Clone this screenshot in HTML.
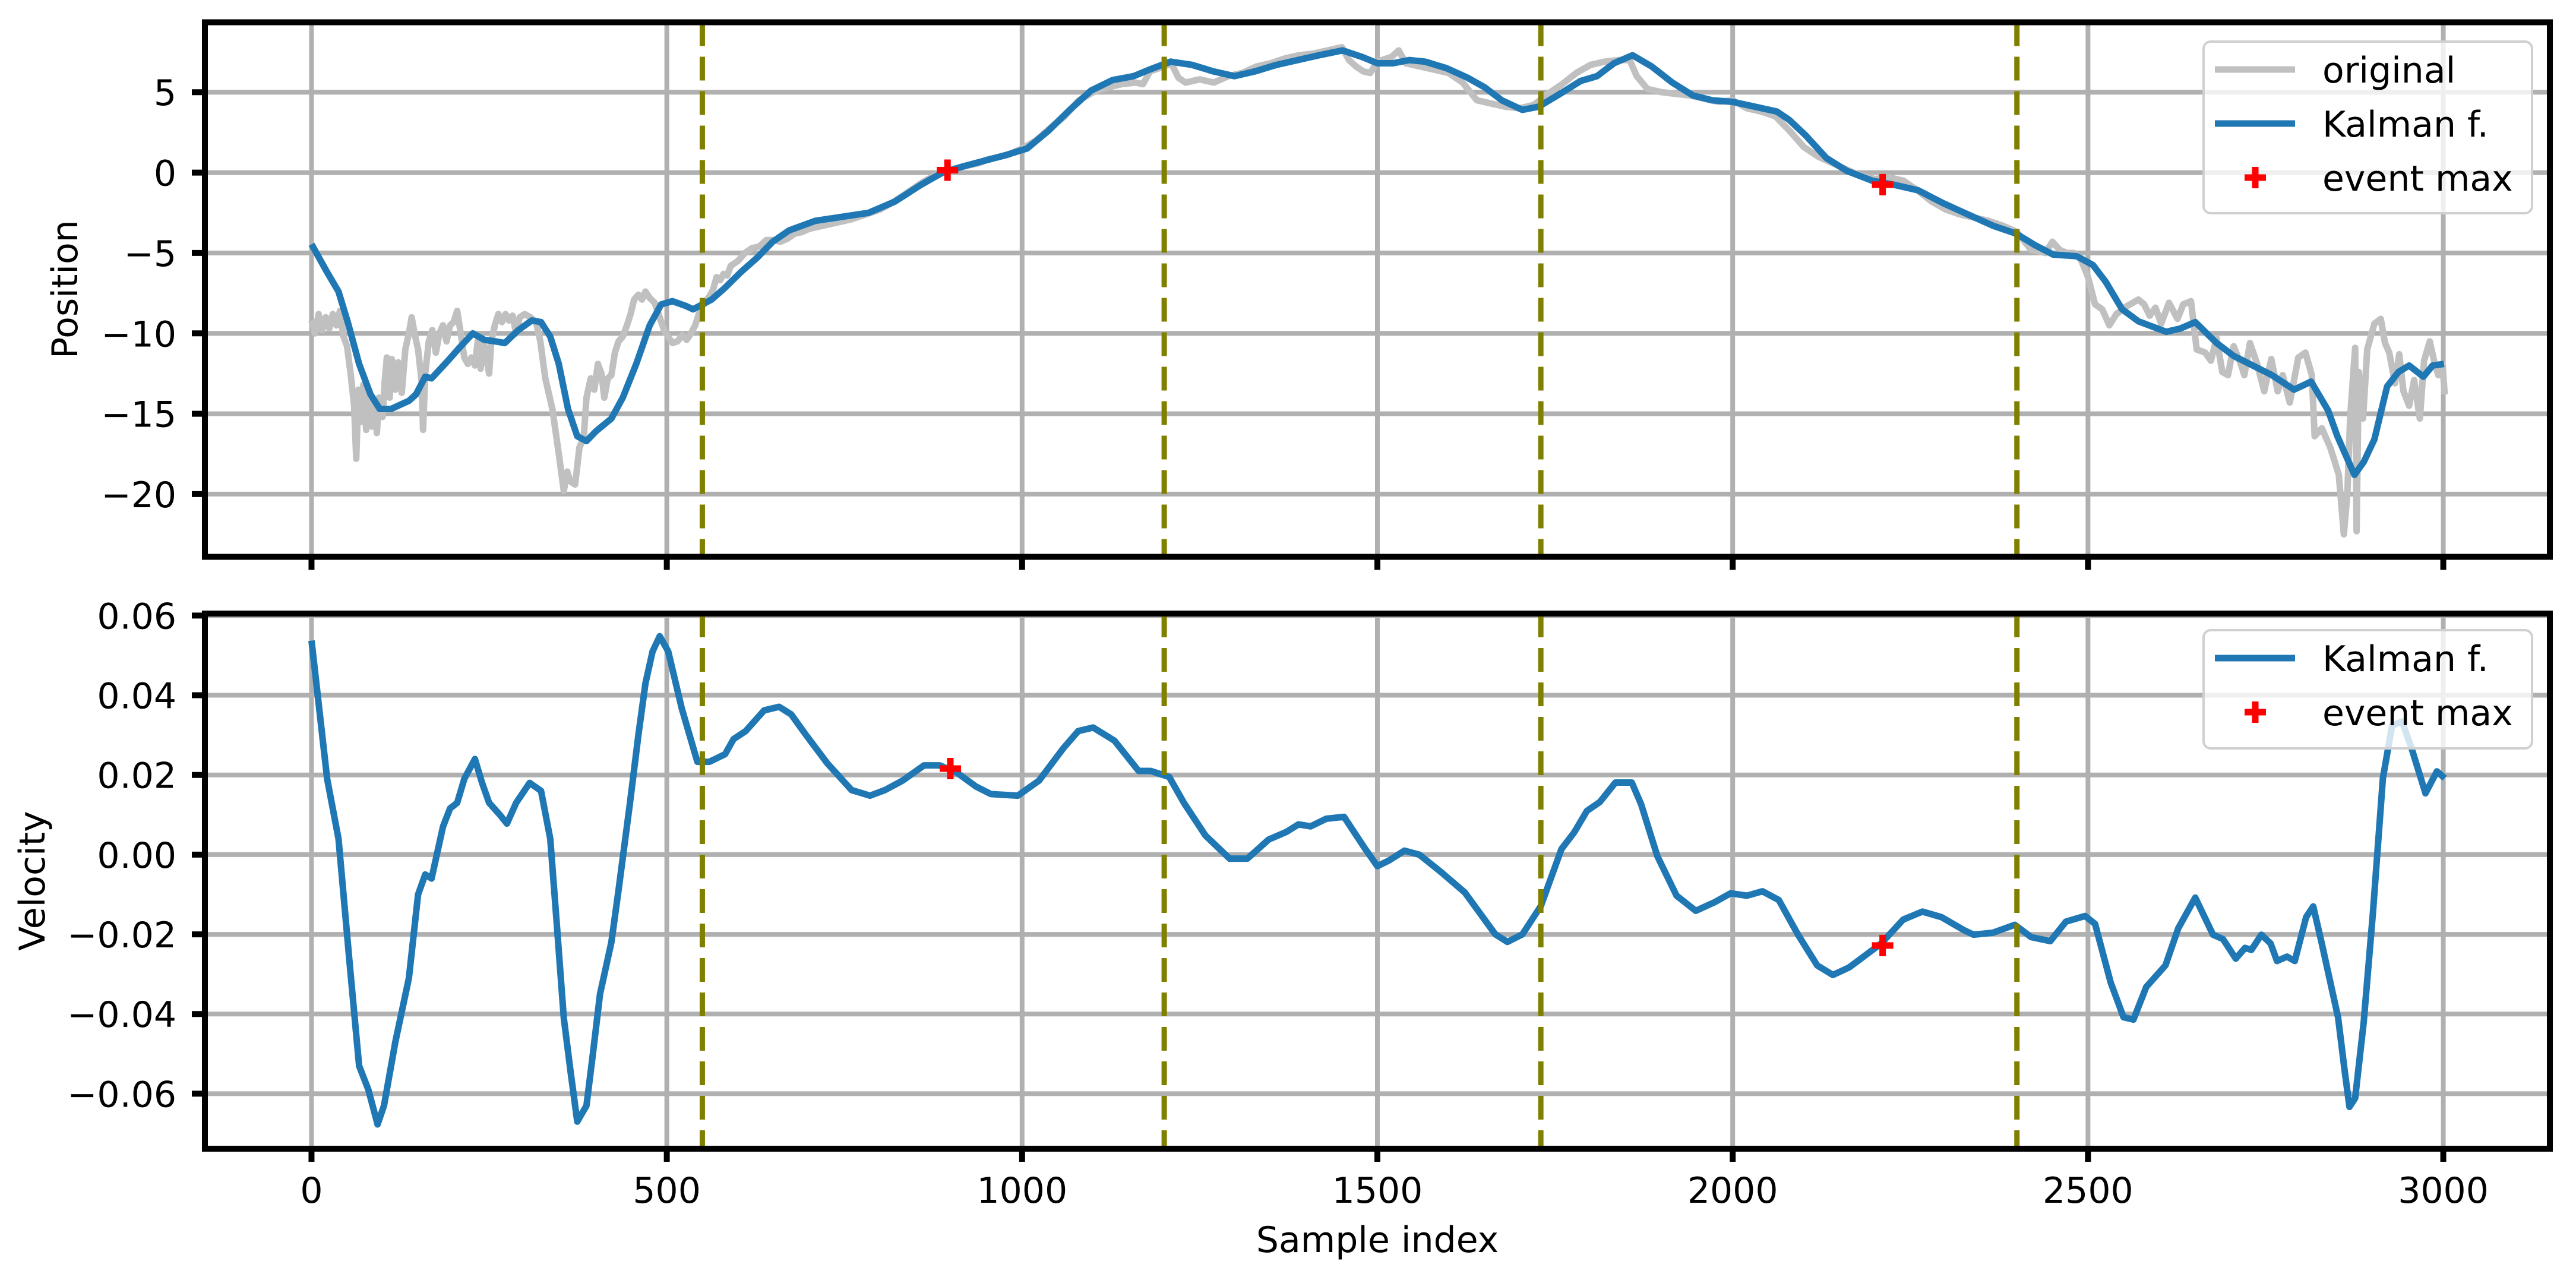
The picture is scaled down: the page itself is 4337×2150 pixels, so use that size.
<!DOCTYPE html>
<html><head><meta charset="utf-8">
<style>
html,body{margin:0;padding:0;background:#fff;}
svg{display:block;}
text{font-family:"DejaVu Sans","Liberation Sans",sans-serif;fill:#000;}
</style></head>
<body>
<svg id="chart" xmlns="http://www.w3.org/2000/svg" width="4337" height="2150" viewBox="0 0 4337 2150">
<rect x="0" y="0" width="4337" height="2150" fill="#fff"/>
<g id="topPanel"></g>
<g id="botPanel"></g>
<text x="2319" y="2108" font-size="60" text-anchor="middle">Sample index</text>
<text transform="translate(130,487) rotate(-90)" font-size="60" text-anchor="middle">Position</text>
<text transform="translate(75,1483) rotate(-90)" font-size="60" text-anchor="middle">Velocity</text>
</svg>
<script>
const xTicks=[0,500,1000,1500,2000,2500,3000];
const posTicks=[-20,-15,-10,-5,0,5];
const velTicks=[-0.06,-0.04,-0.02,0.00,0.02,0.04,0.06];
const eventLines=[550,1200,1730,2400];
const eventX=[895,2211];
const eventPos=[0.15,-0.75];
const eventVelX=[899,2211];
const eventVel=[0.0216,-0.0228];

const posX=[0,22,38,51,67,83,96,112,137,147,160,169,192,208,227,243,259,272,291,310,323,336,348,361,374,387,400,422,438,457,476,492,508,527,537,563,581,604,627,649,672,709,754,784,821,858,888,918,948,978,1007,1037,1067,1097,1127,1157,1179,1209,1239,1269,1299,1328,1358,1388,1418,1451,1478,1500,1522,1545,1567,1597,1627,1651,1675,1704,1727,1757,1786,1809,1833,1859,1886,1915,1944,1971,2000,2026,2062,2079,2103,2132,2161,2196,2226,2261,2296,2331,2366,2399,2425,2451,2484,2507,2525,2548,2571,2610,2630,2651,2681,2705,2732,2759,2790,2814,2838,2851,2862,2875,2888,2903,2921,2937,2952,2972,2985,3001];
const posKalman=[-4.46,-6.2,-7.4,-9.3,-11.9,-13.8,-14.7,-14.7,-14.2,-13.8,-12.7,-12.8,-11.7,-10.9,-10,-10.4,-10.5,-10.6,-9.8,-9.2,-9.3,-10.2,-11.9,-14.7,-16.4,-16.7,-16.1,-15.3,-14,-11.9,-9.5,-8.2,-8,-8.3,-8.5,-7.9,-7.2,-6.2,-5.3,-4.3,-3.6,-3.0,-2.7,-2.5,-1.8,-0.75,0.0,0.4,0.75,1.1,1.5,2.6,3.9,5.1,5.75,6.0,6.4,6.9,6.7,6.3,6.0,6.3,6.7,7.0,7.3,7.6,7.2,6.8,6.8,7.0,6.9,6.5,5.9,5.3,4.5,3.9,4.1,4.9,5.7,6.0,6.8,7.3,6.6,5.6,4.8,4.5,4.4,4.15,3.8,3.3,2.3,0.9,0.1,-0.5,-0.75,-1.1,-1.9,-2.6,-3.3,-3.8,-4.5,-5.1,-5.2,-5.75,-6.8,-8.5,-9.25,-9.9,-9.7,-9.3,-10.6,-11.4,-12.0,-12.6,-13.5,-13.0,-14.8,-16.4,-17.5,-18.8,-18.0,-16.6,-13.3,-12.4,-12,-12.7,-12,-11.9];

const origX=[0,5,10,15,20,25,30,35,40,45,50,55,60,63,66,70,73,77,80,85,88,92,95,100,103,106,110,113,118,122,127,132,137,141,145,150,155,157,160,165,170,175,180,185,190,195,200,205,210,215,220,225,230,234,238,242,246,250,253,258,263,268,273,278,283,288,293,300,308,316,322,329,339,348,355,360,364,371,377,383,387,393,398,403,408,412,417,422,427,432,438,444,449,454,460,465,470,476,483,490,496,502,508,515,522,528,534,540,545,550,555,560,565,570,575,580,585,590,600,610,620,630,640,650,660,670,680,690,700,710,720,740,760,780,800,820,840,860,880,900,920,940,950,980,1000,1020,1040,1060,1080,1100,1120,1140,1160,1170,1180,1200,1210,1220,1230,1250,1270,1290,1310,1330,1350,1370,1390,1410,1430,1450,1460,1470,1480,1490,1500,1520,1530,1540,1560,1580,1600,1620,1640,1660,1680,1700,1720,1740,1760,1780,1800,1820,1840,1855,1865,1880,1900,1920,1940,1960,1980,2000,2020,2040,2060,2080,2100,2120,2140,2160,2180,2200,2220,2240,2260,2280,2300,2320,2340,2360,2380,2400,2420,2440,2450,2460,2470,2480,2490,2500,2510,2520,2530,2540,2555,2571,2579,2587,2595,2603,2614,2626,2634,2645,2653,2665,2673,2681,2689,2697,2705,2715,2720,2728,2738,2748,2758,2767,2774,2784,2796,2806,2815,2819,2829,2841,2853,2860,2865,2869,2876,2878,2881,2887,2893,2903,2912,2918,2924,2932,2938,2944,2952,2959,2967,2973,2981,2987,2993,2999,3002];
const origPos=[-9.2,-10,-8.8,-9.8,-9,-9.7,-8.8,-9.5,-8.6,-10.2,-10.8,-12.5,-14.5,-17.8,-13.5,-15.5,-13.2,-16,-13.5,-15.8,-14.2,-16.2,-14,-15.2,-13,-11.5,-14,-11.6,-13.5,-11.8,-13.7,-11,-10,-9,-10,-11,-13,-16,-12.5,-10.5,-9.8,-11.2,-10,-9.5,-10.5,-9.5,-9.3,-8.6,-10,-11.5,-11.9,-11.5,-12,-10.5,-12.2,-10.5,-11.5,-12.5,-10.5,-9.5,-8.8,-9.3,-8.8,-9.2,-8.9,-10,-9.0,-8.8,-9.0,-9.3,-10.5,-12.8,-14.7,-17.5,-19.8,-18.6,-19.2,-19.4,-17.1,-16.5,-14,-12.8,-13.5,-11.9,-12.5,-14,-12.8,-12.6,-11.2,-10.5,-10.2,-9.5,-8.8,-7.9,-7.6,-7.9,-7.4,-7.8,-8.1,-9.0,-9.8,-10.2,-10.6,-10.5,-10.1,-10.4,-10,-9.5,-8.8,-8.3,-8,-7.7,-7.3,-6.5,-6.7,-6.3,-6.4,-5.8,-5.5,-5.0,-4.7,-4.6,-4.2,-4.2,-4.3,-4.1,-3.8,-3.7,-3.5,-3.4,-3.3,-3.1,-2.9,-2.6,-2.3,-1.8,-1.2,-0.6,-0.1,0.2,0.4,0.6,0.8,1.1,1.5,2,2.8,3.5,4.5,5,5.3,5.5,5.6,5.5,6.3,6.6,6.8,5.9,5.6,5.8,5.6,6,6.2,6.6,6.8,7.1,7.3,7.4,7.6,7.8,7.0,6.6,6.3,6.2,6.9,7.2,7.6,6.8,6.6,6.4,6.2,5.6,4.5,4.3,4.1,4.0,4.2,4.9,5.5,6.2,6.7,6.9,7.0,7.0,6.0,5.2,5.0,4.9,4.8,4.6,4.4,4.5,4.0,3.8,3.5,2.6,1.6,1.0,0.6,0.2,-0.2,-0.4,-0.3,-0.5,-1.1,-1.8,-2.3,-2.6,-2.8,-3.0,-3.3,-3.7,-4.8,-5.0,-4.3,-4.8,-5.0,-5.0,-5.4,-6.5,-8.2,-8.5,-9.5,-8.8,-8.3,-7.9,-8.2,-8.9,-8.4,-9.4,-8.1,-9.1,-8.2,-8.0,-11,-11.2,-11.7,-10.3,-12.4,-12.6,-10.8,-11.9,-12.6,-10.6,-11.9,-13.6,-11.6,-13.6,-12.6,-14.3,-11.5,-11.2,-12.6,-16.4,-15.9,-17.1,-18.8,-22.5,-20,-15.2,-10.9,-22.3,-12.4,-15.3,-11,-9.4,-9.1,-10.6,-11.2,-13.1,-11.3,-13.6,-14.5,-12.9,-15.3,-11.7,-10.5,-11.7,-12.6,-11.9,-13.8];

const velX=[0,22,38,54,67,80,93,102,118,137,150,160,169,185,195,205,215,230,240,250,265,275,288,307,323,336,345,355,365,374,387,396,406,422,432,448,460,470,480,490,502,521,543,560,582,594,611,637,658,675,696,726,760,786,807,832,862,884,909,935,956,994,1024,1058,1079,1100,1130,1164,1181,1207,1228,1258,1292,1317,1347,1372,1389,1406,1428,1453,1483,1500,1517,1538,1559,1589,1623,1666,1683,1704,1730,1759,1777,1795,1813,1835,1858,1871,1894,1921,1948,1975,1997,2020,2042,2065,2092,2119,2141,2164,2209,2240,2267,2294,2326,2339,2366,2397,2420,2447,2469,2496,2510,2532,2550,2564,2582,2609,2627,2651,2676,2690,2708,2721,2730,2744,2757,2766,2780,2791,2807,2817,2829,2852,2861,2868,2876,2888,2901,2915,2928,2942,2955,2975,2991,3002];
const velKalman=[0.0537,0.019,0.004,-0.028,-0.053,-0.059,-0.0677,-0.063,-0.047,-0.031,-0.010,-0.005,-0.006,0.007,0.0116,0.013,0.019,0.024,0.018,0.013,0.010,0.0078,0.013,0.018,0.016,0.004,-0.017,-0.041,-0.055,-0.067,-0.063,-0.050,-0.035,-0.022,-0.009,0.0127,0.030,0.043,0.051,0.0548,0.051,0.0367,0.0233,0.0233,0.0252,0.0290,0.0310,0.0362,0.0371,0.0352,0.0300,0.0229,0.0162,0.0148,0.0162,0.0186,0.0224,0.0224,0.0205,0.0171,0.0152,0.0148,0.0186,0.0267,0.0310,0.0319,0.0286,0.0210,0.0210,0.0195,0.0129,0.0048,-0.0010,-0.0010,0.0038,0.0057,0.0076,0.0071,0.0090,0.0095,0.0014,-0.0029,-0.0014,0.0010,0.0000,-0.0043,-0.0095,-0.0200,-0.0219,-0.0200,-0.0129,0.0014,0.0056,0.0110,0.0132,0.0181,0.0181,0.0127,-0.0004,-0.0103,-0.0141,-0.0119,-0.0097,-0.0103,-0.0092,-0.0114,-0.0201,-0.0278,-0.0302,-0.0283,-0.0223,-0.0163,-0.0143,-0.0157,-0.0190,-0.0201,-0.0196,-0.0176,-0.0207,-0.0217,-0.0168,-0.0154,-0.0174,-0.0321,-0.0408,-0.0414,-0.0332,-0.0278,-0.0185,-0.0108,-0.0201,-0.0212,-0.0261,-0.0234,-0.0239,-0.0201,-0.0223,-0.0267,-0.0256,-0.0267,-0.0157,-0.0130,-0.0223,-0.0409,-0.0540,-0.0633,-0.0611,-0.0420,-0.0146,0.0192,0.0324,0.0334,0.0269,0.0154,0.0209,0.0192];

const NS='http://www.w3.org/2000/svg';
const L=345,R=4293,XMIN=-150,XMAX=3150;
const TT=37.5,TB=937.5,PMAX=9.35,PMIN=-23.9;
const BT=1033,BB=1934,VMAX=0.0605,VMIN=-0.0738;
function X(x){return L+(x-XMIN)*(R-L)/(XMAX-XMIN);}
function YP(v){return TT+(PMAX-v)*(TB-TT)/(PMAX-PMIN);}
function YV(v){return BT+(VMAX-v)*(BB-BT)/(VMAX-VMIN);}
function mk(tag,attrs,parent){const e=document.createElementNS(NS,tag);for(const k in attrs)e.setAttribute(k,attrs[k]);parent.appendChild(e);return e;}
function fmtV(v){const s=Math.abs(v).toFixed(2);return (v<-1e-9?'\u2212':'')+s;}
function fmtP(v){return (v<0?'\u2212':'')+Math.abs(v);}

function panel(g,ptop,pbot,Y,yt,fmt,clipId){
  const defs=mk('defs',{},g);
  const cp=mk('clipPath',{id:clipId},defs);
  mk('rect',{x:L,y:ptop,width:R-L,height:pbot-ptop},cp);
  xTicks.forEach(t=>{
    const l=mk('line',{x1:X(t),x2:X(t),y1:ptop,y2:pbot,stroke:'#b0b0b0','stroke-width':8},g);
    
    
  });
  yt.forEach(t=>{
    const l=mk('line',{x1:L,x2:R,y1:Y(t),y2:Y(t),stroke:'#b0b0b0','stroke-width':8},g);
    
    
    const tk=mk('line',{x1:L-22,x2:L,y1:Y(t),y2:Y(t),stroke:'#000','stroke-width':10},g);
    
    
    const tx=mk('text',{x:L-48,y:Y(t)+22,'font-size':60,'text-anchor':'end'},g);
    tx.textContent=fmt(t);
    
    
  });
  xTicks.forEach(t=>{
    const tk=mk('line',{x1:X(t),x2:X(t),y1:pbot,y2:pbot+22,stroke:'#000','stroke-width':10},g);
    
    
  });
  return mk('g',{'clip-path':'url(#'+clipId+')'},g);
}
function poly(g,xs,ys,Y,color,w,name){
  const n=Math.min(xs.length,ys.length);
  const pts=[];
  for(let i=0;i<n;i++)pts.push(X(xs[i]).toFixed(1)+','+Y(ys[i]).toFixed(1));
  const p=mk('polyline',{points:pts.join(' '),fill:'none',stroke:color,'stroke-width':w,'stroke-linejoin':'round','stroke-linecap':'butt'},g);
  
  
}
function vlines(g,ptop,pbot){
  eventLines.forEach(e=>{
    const l=mk('line',{x1:X(e),x2:X(e),y1:ptop,y2:pbot,stroke:'#808000','stroke-width':9,'stroke-dasharray':'40 18'},g);
    
    
  });
}
function plus(g,cx,cy,name){
  const p=mk('path',{d:`M${cx-18},${cy}H${cx+18}M${cx},${cy-18}V${cy+18}`,stroke:'#ff0000','stroke-width':11,fill:'none'},g);
  
  
}
function spines(g,ptop,pbot){
  const r=mk('rect',{x:L,y:ptop,width:R-L,height:pbot-ptop,fill:'none',stroke:'#000','stroke-width':10},g);
  
  
}
function legend(g,y0,h,rows){
  const r=mk('rect',{x:3710,y:y0,width:553,height:h,rx:12,fill:'#fff','fill-opacity':0.8,stroke:'#d0d0d0','stroke-width':4},g);
  
  
  rows.forEach((row,i)=>{
    const cy=y0+47+i*91;
    if(row.type==='line'){
      const l=mk('line',{x1:3729,x2:3864,y1:cy,y2:cy,stroke:row.color,'stroke-width':11},g);
      
      
    } else plus(g,3797,cy,'legend-swatch-'+row.key);
    const t=mk('text',{x:3910,y:cy+22,'font-size':60},g);
    t.textContent=row.label;
    
    
  });
}

const topG=document.getElementById('topPanel');
const pc=panel(topG,TT,TB,YP,posTicks,fmtP,'clipTop');
poly(pc,origX,origPos,YP,'#c0c0c0',11,'original-position-line');
poly(pc,posX,posKalman,YP,'#1f77b4',11,'kalman-position-line');
vlines(pc,TT,TB);
eventX.forEach((x,i)=>plus(pc,X(x),YP(eventPos[i]),'event-max-marker'));
spines(topG,TT,TB);
legend(topG,70,289,[{type:'line',color:'#c0c0c0',label:'original',key:'original'},{type:'line',color:'#1f77b4',label:'Kalman f.',key:'kalman'},{type:'plus',label:'event max',key:'event-max'}]);

const botG=document.getElementById('botPanel');
const bc=panel(botG,BT,BB,YV,velTicks,fmtV,'clipBot');
poly(bc,velX,velKalman,YV,'#1f77b4',11,'kalman-velocity-line');
vlines(bc,BT,BB);
eventVelX.forEach((x,i)=>plus(bc,X(x),YV(eventVel[i]),'event-max-marker'));
spines(botG,BT,BB);
legend(botG,1061,199,[{type:'line',color:'#1f77b4',label:'Kalman f.',key:'kalman'},{type:'plus',label:'event max',key:'event-max'}]);

const chartEl=document.getElementById('chart');
xTicks.forEach(t=>{
  const tx=mk('text',{x:X(t),y:2025,'font-size':60,'text-anchor':'middle'},chartEl);
  tx.textContent=String(t);
  
  
});
</script>
</body></html>
